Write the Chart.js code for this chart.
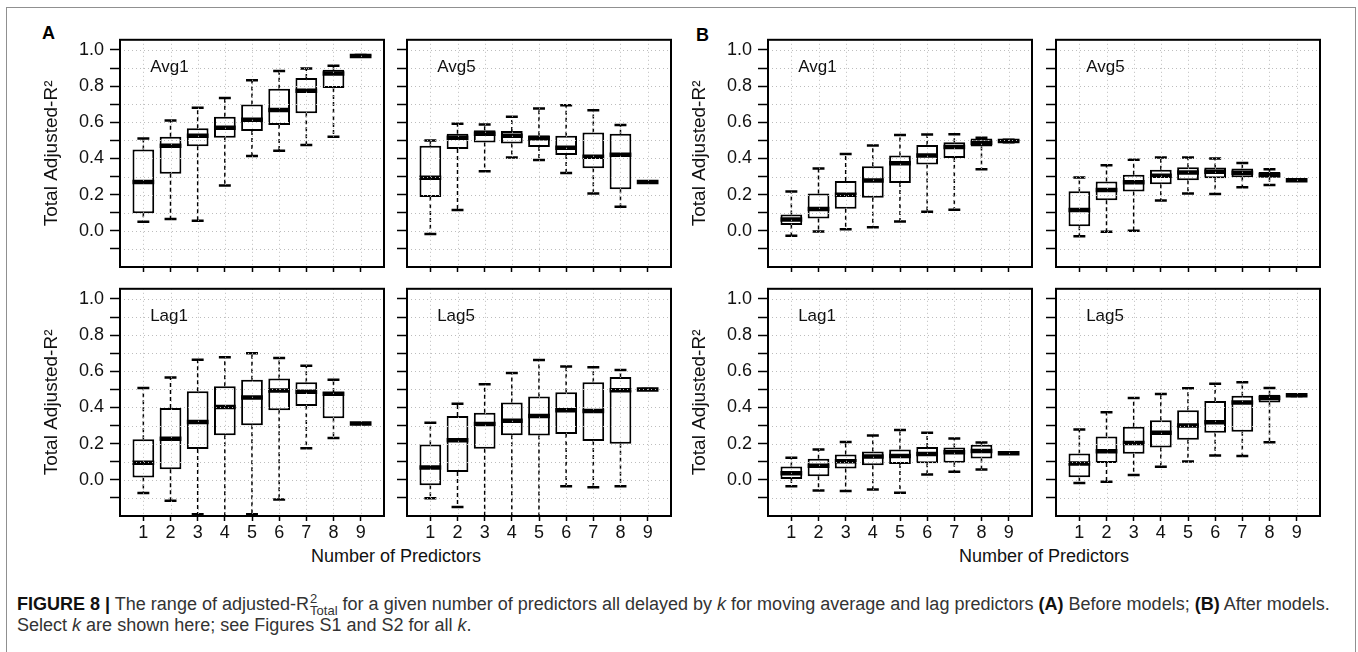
<!DOCTYPE html>
<html>
<head>
<meta charset="utf-8">
<script src="https://cdn.jsdelivr.net/npm/chart.js@4.4.0/dist/chart.umd.min.js"></script>
<style>
  body { margin: 0; background: #fff; width: 1358px; height: 652px; overflow: hidden; position: relative;
         font-family: 'Liberation Sans', Arial, sans-serif; }
  canvas { position: absolute; }
  .frame { position: absolute; left: 6px; top: 7px; width: 1348px; height: 700px;
           border: 1.5px solid #909090; border-bottom: none; }
  .tag { position: absolute; font-weight: bold; font-size: 18px; color: #000; line-height: 20px; }
  .xtitle { position: absolute; font-size: 18px; color: #111; transform: translateX(-50%); white-space: nowrap; line-height: 20px; }
  .cap { position: absolute; left: 17px; font-size: 18px; color: #333; white-space: nowrap; transform-origin: 0 0; line-height: 20px; }
  .cap b { color: #111; }
  .ss { display: inline-block; vertical-align: -5px; font-size: 13px; line-height: 12px; margin-left: 1px; }
  .ss span { display: block; }
</style>
</head>
<body>
<div class="frame"></div>
<div class="tag" style="left:42px;top:23px">A</div>
<div class="tag" style="left:696px;top:25px">B</div>
<div class="xtitle" style="left:396px;top:546px">Number of Predictors</div>
<div class="xtitle" style="left:1044px;top:546px">Number of Predictors</div>
<div class="cap" id="cap1" style="top:593px"><b>FIGURE 8 |</b> The range of adjusted-R<span class="ss"><span>2</span><span>Total</span></span> for a given number of predictors all delayed by <i>k</i> for moving average and lag predictors <b>(A)</b> Before models; <b>(B)</b> After models.</div>
<div class="cap" id="cap2" style="top:615px">Select <i>k</i> are shown here; see Figures S1 and S2 for all <i>k</i>.</div>

<script>
// categories (number of predictors) and axis ticks
const categories = [1, 2, 3, 4, 5, 6, 7, 8, 9];
const yTicks = [-0.1, 0, 0.1, 0.2, 0.3, 0.4, 0.5, 0.6, 0.7, 0.8, 0.9, 1.0];
const yLabelValues = [0, 0.2, 0.4, 0.6, 0.8, 1.0];

// each row: [lower whisker, Q1, median, Q3, upper whisker]
const beforeAvg1 = [
  [0.05, 0.097, 0.27, 0.45, 0.51], [0.066, 0.315, 0.47, 0.52, 0.61], [0.055, 0.468, 0.526, 0.567, 0.68],
  [0.25, 0.515, 0.57, 0.63, 0.734], [0.414, 0.552, 0.614, 0.698, 0.832], [0.443, 0.585, 0.668, 0.785, 0.883],
  [0.475, 0.65, 0.774, 0.845, 0.898], [0.52, 0.79, 0.87, 0.89, 0.913], [0.962, 0.965, 0.967, 0.97, 0.972]
];
const beforeAvg5 = [
  [-0.018, 0.187, 0.293, 0.47, 0.50], [0.115, 0.452, 0.515, 0.537, 0.592], [0.33, 0.488, 0.537, 0.556, 0.588],
  [0.406, 0.483, 0.525, 0.552, 0.63], [0.392, 0.464, 0.512, 0.528, 0.676], [0.319, 0.419, 0.459, 0.525, 0.694],
  [0.206, 0.346, 0.41, 0.543, 0.667], [0.133, 0.23, 0.421, 0.537, 0.585], [0.268, 0.269, 0.27, 0.271, 0.272]
];
const beforeLag1 = [
  [-0.073, 0.0125, 0.095, 0.224, 0.508], [-0.116, 0.059, 0.227, 0.397, 0.566], [-0.19, 0.17, 0.32, 0.489, 0.664],
  [-0.3, 0.247, 0.403, 0.517, 0.678], [-0.19, 0.302, 0.455, 0.553, 0.70], [-0.109, 0.385, 0.494, 0.56, 0.673],
  [0.174, 0.408, 0.487, 0.54, 0.63], [0.231, 0.34, 0.476, 0.485, 0.553], [0.309, 0.31, 0.311, 0.312, 0.313]
];
const beforeLag5 = [
  [-0.102, -0.03, 0.068, 0.195, 0.315], [-0.15, 0.043, 0.219, 0.353, 0.42], [-0.3, 0.172, 0.308, 0.371, 0.529],
  [-0.3, 0.247, 0.326, 0.428, 0.59], [-0.3, 0.245, 0.353, 0.46, 0.663], [-0.036, 0.254, 0.385, 0.484, 0.627],
  [-0.041, 0.215, 0.38, 0.539, 0.622], [-0.036, 0.2, 0.495, 0.568, 0.607], [0.498, 0.499, 0.5, 0.501, 0.502]
];
const afterAvg1 = [
  [-0.027, 0.032, 0.063, 0.09, 0.217], [-0.004, 0.068, 0.12, 0.206, 0.344], [0.009, 0.122, 0.2, 0.276, 0.425],
  [0.02, 0.183, 0.278, 0.357, 0.471], [0.052, 0.265, 0.373, 0.416, 0.53], [0.106, 0.366, 0.416, 0.475, 0.532],
  [0.116, 0.403, 0.464, 0.489, 0.534], [0.34, 0.466, 0.487, 0.51, 0.514], [0.49, 0.492, 0.496, 0.502, 0.504]
];
const afterAvg5 = [
  [-0.03, 0.025, 0.115, 0.219, 0.295], [-0.005, 0.169, 0.226, 0.273, 0.363], [0.0, 0.217, 0.269, 0.31, 0.393],
  [0.167, 0.257, 0.305, 0.338, 0.406], [0.206, 0.28, 0.323, 0.352, 0.406], [0.203, 0.291, 0.327, 0.35, 0.40],
  [0.241, 0.296, 0.321, 0.345, 0.375], [0.253, 0.294, 0.309, 0.325, 0.341], [0.278, 0.279, 0.28, 0.281, 0.282]
];
const afterLag1 = [
  [-0.036, 0.004, 0.037, 0.073, 0.122], [-0.059, 0.02, 0.078, 0.117, 0.168], [-0.062, 0.062, 0.102, 0.14, 0.209],
  [-0.054, 0.08, 0.129, 0.157, 0.245], [-0.071, 0.088, 0.131, 0.168, 0.276], [0.029, 0.091, 0.143, 0.182, 0.26],
  [0.045, 0.094, 0.152, 0.178, 0.229], [0.057, 0.118, 0.159, 0.194, 0.206], [0.145, 0.146, 0.147, 0.148, 0.149]
];
const afterLag5 = [
  [-0.018, 0.014, 0.09, 0.145, 0.278], [-0.011, 0.093, 0.158, 0.239, 0.373], [0.026, 0.144, 0.203, 0.294, 0.452],
  [0.072, 0.178, 0.26, 0.33, 0.474], [0.101, 0.221, 0.3, 0.384, 0.506], [0.135, 0.26, 0.318, 0.436, 0.531],
  [0.131, 0.266, 0.427, 0.465, 0.539], [0.208, 0.427, 0.452, 0.47, 0.508], [0.464, 0.465, 0.467, 0.469, 0.47]
];

const FONT = "'Liberation Sans', Arial, sans-serif";

// whiskers, caps, medians, dotted grid, frame and panel name
const boxPlugin = {
  id: 'boxes',
  afterDatasetsDraw(chart) {
    const { ctx, chartArea: a, scales: { x, y } } = chart;
    const ds = chart.data.datasets[0];
    const meta = chart.getDatasetMeta(0);
    const line = (x1, y1, x2, y2) => { ctx.beginPath(); ctx.moveTo(x1, y1); ctx.lineTo(x2, y2); ctx.stroke(); };
    ctx.save();
    ctx.beginPath(); ctx.rect(a.left, a.top, a.width, a.height); ctx.clip();
    ctx.strokeStyle = '#000';
    ds.stats.forEach((r, i) => {
      const px = x.getPixelForValue(categories[i]);
      const half = meta.data[i].width / 2;
      const [lo, q1, md, q3, hi] = r.map(v => y.getPixelForValue(v));
      ctx.setLineDash([4, 3]); ctx.lineWidth = 1.5;
      line(px, q1, px, lo); line(px, q3, px, hi);
      ctx.setLineDash([]); ctx.lineWidth = 2.5;
      line(px - half * 0.55, lo, px + half * 0.55, lo);
      line(px - half * 0.55, hi, px + half * 0.55, hi);
      ctx.lineWidth = 4.5;
      line(px - half, md, px + half, md);
    });
    ctx.restore();
  },
  afterDraw(chart) {
    const { ctx, chartArea: a, scales: { x, y } } = chart;
    ctx.save();
    ctx.strokeStyle = '#bdbdbd'; ctx.lineWidth = 1; ctx.setLineDash([1, 3]);
    yTicks.forEach(v => {
      const py = Math.round(y.getPixelForValue(v)) + 0.5;
      ctx.beginPath(); ctx.moveTo(a.left, py); ctx.lineTo(a.right, py); ctx.stroke();
    });
    categories.forEach(v => {
      const px = Math.round(x.getPixelForValue(v)) + 0.5;
      ctx.beginPath(); ctx.moveTo(px, a.top); ctx.lineTo(px, a.bottom); ctx.stroke();
    });
    ctx.setLineDash([]);
    ctx.strokeStyle = '#000'; ctx.lineWidth = 2;
    ctx.strokeRect(a.left, a.top, a.width, a.height);
    ctx.fillStyle = '#111'; ctx.font = '17px ' + FONT;
    ctx.textBaseline = 'middle'; ctx.textAlign = 'left';
    ctx.fillText(chart.options.plugins.boxes.name, x.getPixelForValue(1.25), y.getPixelForValue(0.905));
    ctx.restore();
  }
};

const W = 264, H = 230, PAD = 14;
const panels = [
  { rows: beforeAvg1, name: 'Avg1', L: 120, T: 37, showY: true, showX: false },
  { rows: beforeAvg5, name: 'Avg5', L: 407, T: 37, showY: false, showX: false },
  { rows: beforeLag1, name: 'Lag1', L: 120, T: 286, showY: true, showX: true },
  { rows: beforeLag5, name: 'Lag5', L: 407, T: 286, showY: false, showX: true },
  { rows: afterAvg1, name: 'Avg1', L: 768, T: 37, showY: true, showX: false },
  { rows: afterAvg5, name: 'Avg5', L: 1056, T: 37, showY: false, showX: false },
  { rows: afterLag1, name: 'Lag1', L: 768, T: 286, showY: true, showX: true },
  { rows: afterLag5, name: 'Lag5', L: 1056, T: 286, showY: false, showX: true }
];

panels.forEach(p => {
  const yW = p.showY ? 84 : 12;
  const xH = p.showX ? 30 : 6;
  const cv = document.createElement('canvas');
  cv.width = W + yW + 2 * PAD;
  cv.height = H + xH + 2 * PAD;
  cv.style.left = (p.L - yW - PAD) + 'px';
  cv.style.top = (p.T - PAD) + 'px';
  document.body.appendChild(cv);

  new Chart(cv, {
    type: 'bar',
    data: {
      datasets: [{
        data: p.rows.map((r, i) => ({ x: categories[i], y: [r[1], r[3]] })),
        stats: p.rows,
        backgroundColor: '#fff',
        borderColor: '#000',
        borderWidth: 2,
        borderSkipped: false,
        categoryPercentage: 1,
        barPercentage: 0.8
      }]
    },
    options: {
      responsive: false,
      animation: false,
      layout: { padding: PAD },
      plugins: { legend: { display: false }, tooltip: { enabled: false }, boxes: { name: p.name } },
      scales: {
        x: {
          type: 'linear', min: 0.14, max: 9.86, offset: false,
          afterBuildTicks: s => { s.ticks = categories.map(v => ({ value: v })); },
          afterFit: s => { s.height = xH; },
          ticks: {
            autoSkip: false, maxRotation: 0, padding: 1, color: '#111',
            font: { family: FONT, size: 18 },
            callback: v => p.showX ? String(v) : ''
          },
          grid: { offset: false, drawOnChartArea: false, drawTicks: true, tickLength: 5, tickColor: '#000', tickWidth: 1.5 },
          border: { display: false }
        },
        y: {
          min: -0.2, max: 1.056,
          afterBuildTicks: s => { s.ticks = yTicks.map(v => ({ value: v })); },
          afterFit: s => { s.width = yW; },
          ticks: {
            autoSkip: false, padding: 6, color: '#111',
            font: { family: FONT, size: 18 },
            callback: v => (p.showY && yLabelValues.some(l => Math.abs(l - v) < 1e-6)) ? v.toFixed(1) : ''
          },
          grid: { drawOnChartArea: false, drawTicks: true, tickLength: 10, tickColor: '#000', tickWidth: 1.5 },
          border: { display: false },
          title: {
            display: p.showY, text: 'Total Adjusted-R²', color: '#111',
            font: { family: FONT, size: 19 }, padding: { top: 4, bottom: 4 }
          }
        }
      }
    },
    plugins: [boxPlugin]
  });
});

// squeeze the caption to the page width like the condensed original
const cap1 = document.getElementById('cap1');
const cap2 = document.getElementById('cap2');
const k = 1313 / cap1.offsetWidth;
cap1.style.transform = 'scaleX(' + k + ')';
cap2.style.transform = 'scaleX(' + k + ')';
</script>
</body>
</html>
